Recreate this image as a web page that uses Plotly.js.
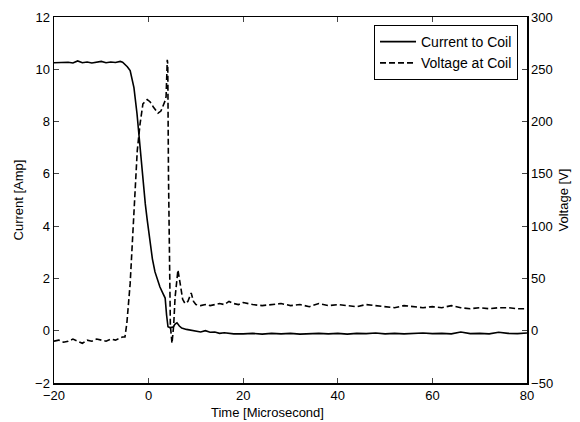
<!DOCTYPE html>
<html>
<head>
<meta charset="utf-8">
<script src="https://cdn.plot.ly/plotly-3.0.1.min.js"></script>
<style>html,body{margin:0;padding:0;background:#fff;}#chart{width:580px;height:422px;}</style>
</head>
<body>
<div id="chart"></div>
<script>
// Time [microsecond] for current trace
var timeCurrent = [-20,-19,-18,-17,-16,-15,-14,-13,-12,-11,-10,-9,-8,-7,-6,-5.5,-5,-4.5,-3.9,-3.1,-2.45,-1.8,-1.2,-0.7,-0.3,0.3,0.8,1.35,2.4,3.0,3.5,3.8,4.1,4.5,5.2,5.6,6.0,6.5,7,8,9,10,11,12,13,14,15,16,18,20,22,24,26,28,30,32,34,36,38,40,42,44,46,48,50,52,54,56,58,60,62,64,66,68,70,72,74,76,78,80];
// Current to coil [A]
var currentAmp = [10.25,10.26,10.25,10.27,10.24,10.32,10.25,10.28,10.24,10.27,10.3,10.25,10.28,10.26,10.3,10.27,10.2,10.1,9.95,9.3,8.3,6.9,5.6,4.85,4.25,3.35,2.75,2.25,1.67,1.44,1.25,0.6,0.15,0.12,0.14,0.25,0.3,0.18,0.1,0.05,0.02,-0.02,-0.05,0.0,-0.06,-0.05,-0.1,-0.08,-0.12,-0.12,-0.1,-0.13,-0.1,-0.12,-0.1,-0.13,-0.11,-0.1,-0.12,-0.1,-0.13,-0.1,-0.11,-0.09,-0.12,-0.1,-0.12,-0.1,-0.09,-0.11,-0.1,-0.12,-0.05,-0.11,-0.1,-0.12,-0.06,-0.1,-0.11,-0.09];
// Time [microsecond] for voltage trace
var timeVoltage = [-20,-19,-18,-17,-16,-15,-14,-13,-12,-11,-10,-9,-8,-7,-6,-5.5,-5,-4.6,-3.9,-3.3,-2.7,-2.4,-1.8,-1.2,-0.3,0.3,1.0,2.0,2.6,3.0,3.5,3.7,3.85,3.95,4.05,4.2,4.4,4.6,4.95,5.3,5.6,5.9,6.2,6.5,6.8,7.2,7.7,8.3,9.0,9.5,10,11,12,13,14,15,16,17,18,19,20,22,24,26,28,30,32,34,36,38,40,42,44,46,48,50,52,54,56,58,60,62,64,66,68,70,72,74,76,78,80];
// Voltage at coil [V]
var voltageV = [-10,-9,-11,-10,-8,-10,-12,-9,-10,-8,-9,-10,-8,-9,-7,-6,-6,7,45,93,141,172,198,217,221,219,214,208,210,214,220,224,240,259,255,150,40,5,-12,5,32,45,58,50,39,30,26,28,36,28,25,24,25,24,25,26,25,28,26,25,27,25,24,25,26,24,25,23,26,24,25,24,23,25,24,23,22,24,23,22,23,22,24,22,21,22,21,22,22,21,21];

var fontFam = 'Arial, "Liberation Sans", sans-serif';

var traces = [
  {x: timeCurrent, y: currentAmp, type: 'scatter', mode: 'lines', name: 'Current to Coil',
   line: {color: '#000', width: 1.6}, yaxis: 'y'},
  {x: timeVoltage, y: voltageV, type: 'scatter', mode: 'lines', name: 'Voltage at Coil',
   line: {color: '#000', width: 1.6, dash: '6px,3px'}, yaxis: 'y2'}
];

var layout = {
  width: 580, height: 422,
  margin: {l: 54, r: 53, t: 17, b: 39},
  paper_bgcolor: '#fff', plot_bgcolor: '#fff',
  font: {family: fontFam, size: 13, color: '#000'},
  showlegend: true,
  legend: {x: 0.981, y: 0.978, xanchor: 'right', yanchor: 'top',
    bordercolor: '#000', borderwidth: 1, bgcolor: '#fff', itemwidth: 36,
    font: {family: fontFam, size: 14, color: '#000'}, tracegroupgap: 0},
  xaxis: {range: [-20, 80], dtick: 20, tick0: -20, ticks: 'inside', ticklen: 5,
    showline: true, linecolor: '#000', linewidth: 1.5, mirror: 'ticks', showgrid: false, zeroline: false,
    tickfont: {size: 13}},
  yaxis: {range: [-2, 12], dtick: 2, ticks: 'inside', ticklen: 5,
    showline: true, linecolor: '#000', linewidth: 1.5, showgrid: false, zeroline: false,
    title: {text: 'Current [Amp]', font: {size: 13}, standoff: 8}, tickfont: {size: 13}},
  yaxis2: {range: [-50, 300], dtick: 50, ticks: 'inside', ticklen: 5, overlaying: 'y', side: 'right',
    showline: true, linecolor: '#000', linewidth: 1.5, showgrid: false, zeroline: false,
    title: {text: 'Voltage [V]', font: {size: 13}, standoff: 6}, tickfont: {size: 13}},
  annotations: [
    {text: 'Time [Microsecond]', xref: 'paper', yref: 'paper', x: 0.452, y: -0.081,
     xanchor: 'center', yanchor: 'middle', showarrow: false, font: {family: fontFam, size: 13, color: '#000'}}
  ]
};

Plotly.newPlot('chart', traces, layout, {staticPlot: true, displayModeBar: false});
</script>
</body>
</html>
